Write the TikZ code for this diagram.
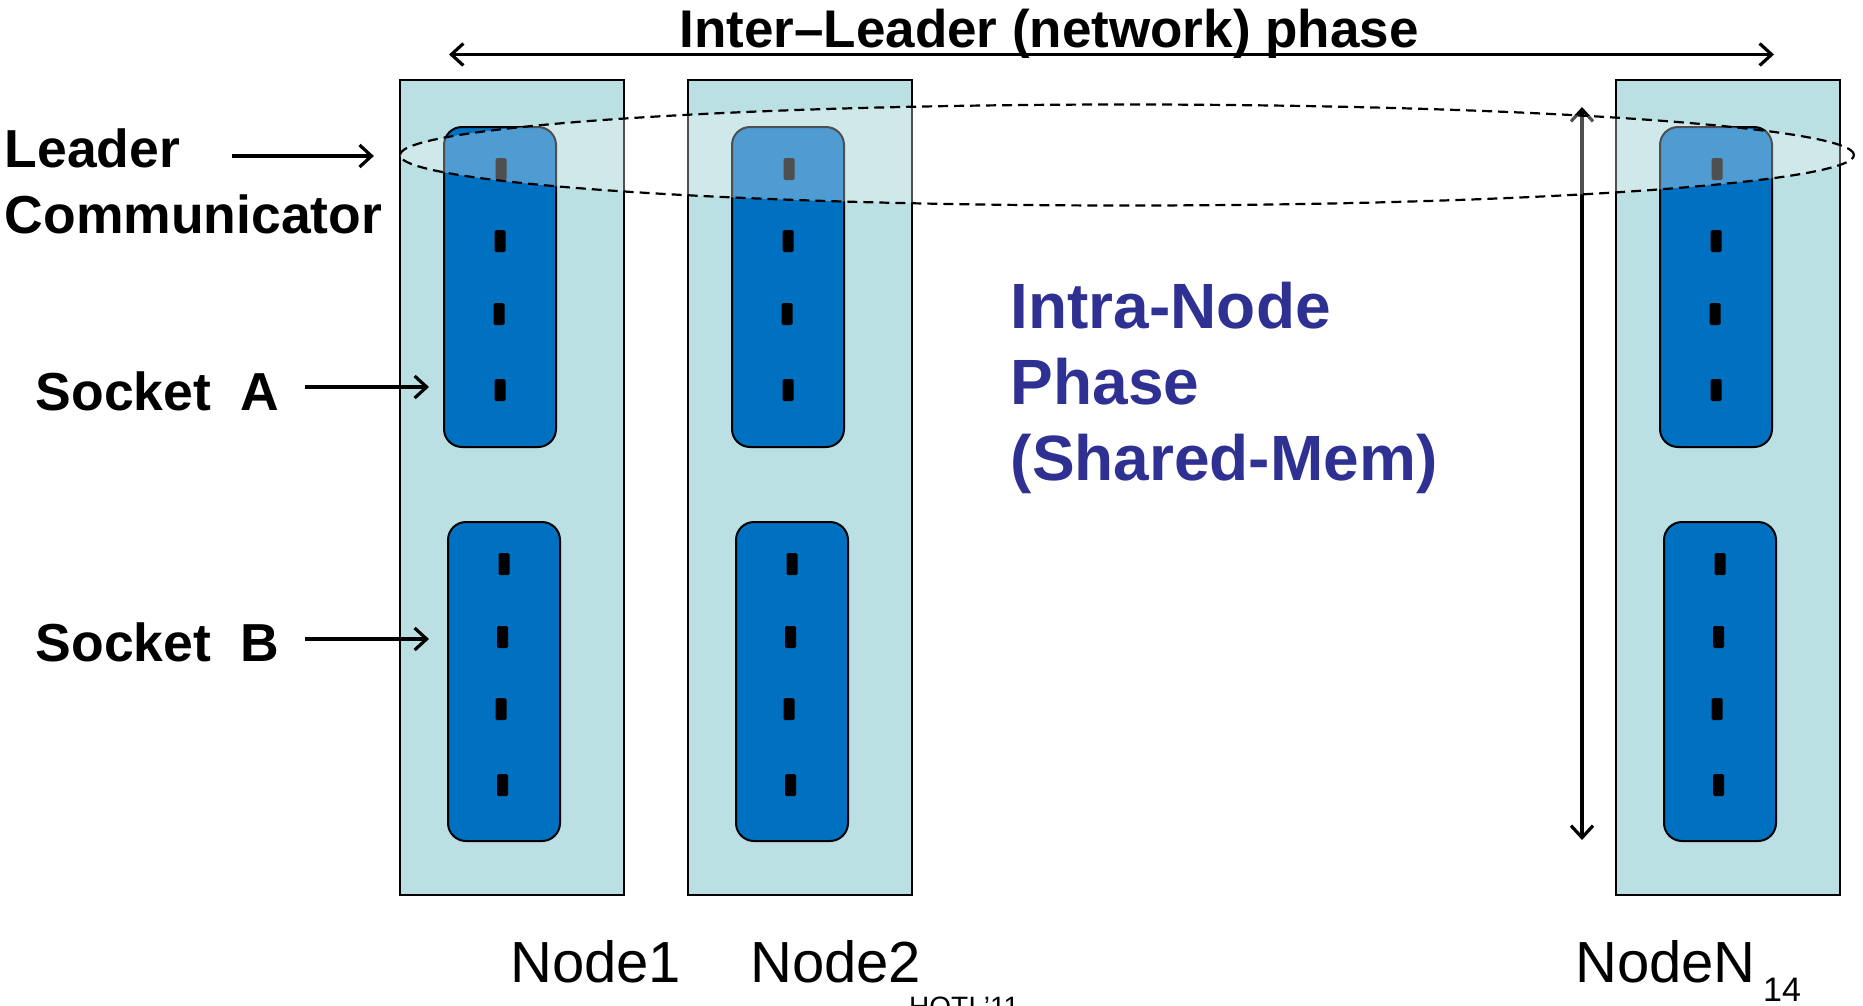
\documentclass[tikz,border=0pt]{standalone}
\usepackage{fontspec}
\setmainfont{Liberation Sans}
\usetikzlibrary{shapes.geometric,arrows.meta}
\definecolor{hostfill}{RGB}{186,224,227}
\definecolor{socketblue}{RGB}{0,112,192}
\definecolor{phaseblue}{RGB}{46,49,146}
\begin{document}
\begin{tikzpicture}[x=1pt,y=-1pt,
  hostbox/.style={draw=black, line width=2.5pt, fill=hostfill, minimum width=224pt, minimum height=815pt, inner sep=0pt},
  socket/.style={draw=black, line width=2pt, fill=socketblue, rounded corners=18pt, minimum width=112pt, minimum height=320pt, inner sep=0pt},
  core/.style={fill=black, rounded corners=1.5pt, minimum width=11pt, minimum height=22pt, inner sep=0pt},
  boldtext/.style={font=\fontsize{53.5}{60}\selectfont\bfseries, inner sep=0pt, anchor=base west},
  phasetext/.style={font=\fontsize{64}{76}\selectfont\bfseries, text=phaseblue, inner sep=0pt, anchor=base west},
  hostname/.style={font=\fontsize{58}{64}\selectfont, inner sep=0pt, anchor=base west},
  arr/.style={line width=3.2pt, -{Straight Barb[length=12pt,width=22pt]}},
  dblarr/.style={line width=3.2pt, {Straight Barb[length=12pt,width=22pt]}-{Straight Barb[length=12pt,width=22pt]}},
  leadring/.style={ellipse, draw=black, line width=2.2pt, dash pattern=on 10pt off 6pt, fill=white, fill opacity=0.31, inner sep=0pt}
]
\useasboundingbox (0,0) rectangle (1863,1005);

% compute nodes, each with two sockets of four cores
\foreach \nm/\lx in {1/400, 2/688, N/1616} {
  \node[hostbox] (host\nm) at (\lx+112, 487.5) {};
  \node[socket] (sockA\nm) at (\lx+100, 287) {};
  \node[socket, minimum height=319pt] (sockB\nm) at (\lx+104, 681.5) {};
  \foreach \i/\dx/\cy in {1/1/169, 2/0/241, 3/-1/314, 4/0/390}
    \node[core] (coreA\nm-\i) at (\lx+100+\dx, \cy) {};
  \foreach \i/\dx/\cy in {1/0/564, 2/-1.5/637, 3/-3/709, 4/-1.5/785}
    \node[core] (coreB\nm-\i) at (\lx+104+\dx, \cy) {};
}

% intra-node span
\coordinate (vtop) at (1582,107);
\coordinate (vbot) at (1582,840);
\draw[dblarr] (vtop) -- (vbot);

% leader communicator ring over the first socket of every node
\node[leadring, minimum width=1454pt, minimum height=101pt] (leaders) at (1127,155) {};

% inter-leader phase
\coordinate (tleft) at (449,54.5);
\coordinate (tright) at (1774,54.5);
\draw[dblarr] (tleft) -- (tright);
\node[boldtext, font=\fontsize{53}{60}\selectfont\bfseries, anchor=base] (title) at (1049,47.5) {Inter--Leader (network) phase};

% left-hand labels
\node[boldtext] (lblLeader) at (4.5,167.5) {Leader};
\node[boldtext] (lblComm) at (4.5,233) {Communicator};
\node[boldtext] (lblSockA) at (35.5,410) {Socket~~A};
\node[boldtext] (lblSockB) at (35.5,661) {Socket~~B};

\coordinate (leadstart) at (232,156);
\draw[arr, shorten >=25pt] (leadstart) -- (leadstart -| leaders.west);
\coordinate (sockAstart) at (305,387);
\draw[arr, shorten >=14pt] (sockAstart) -- (sockAstart -| sockA1.west);
\coordinate (sockBstart) at (305,639);
\draw[arr, shorten >=18pt] (sockBstart) -- (sockBstart -| sockB1.west);

% intra-node phase caption
\node[phasetext] (phase1) at (1010.5,328) {Intra-Node};
\node[phasetext] (phase2) at (1010.5,404) {Phase};
\node[phasetext] (phase3) at (1010.5,480) {(Shared-Mem)};

% node names and footer
\node[hostname] (name1) at (510,982) {Node1};
\node[hostname] (name2) at (750,982) {Node2};
\node[hostname] (nameN) at (1575,982) {NodeN};
\node[font=\fontsize{34}{40}\selectfont, inner sep=0pt, anchor=base west] (pagenum) at (1763,1001) {14};
\node[font=\fontsize{28}{32}\selectfont, inner sep=0pt, anchor=base west] (footer) at (909,1016) {HOTI '11};
\end{tikzpicture}
\end{document}
